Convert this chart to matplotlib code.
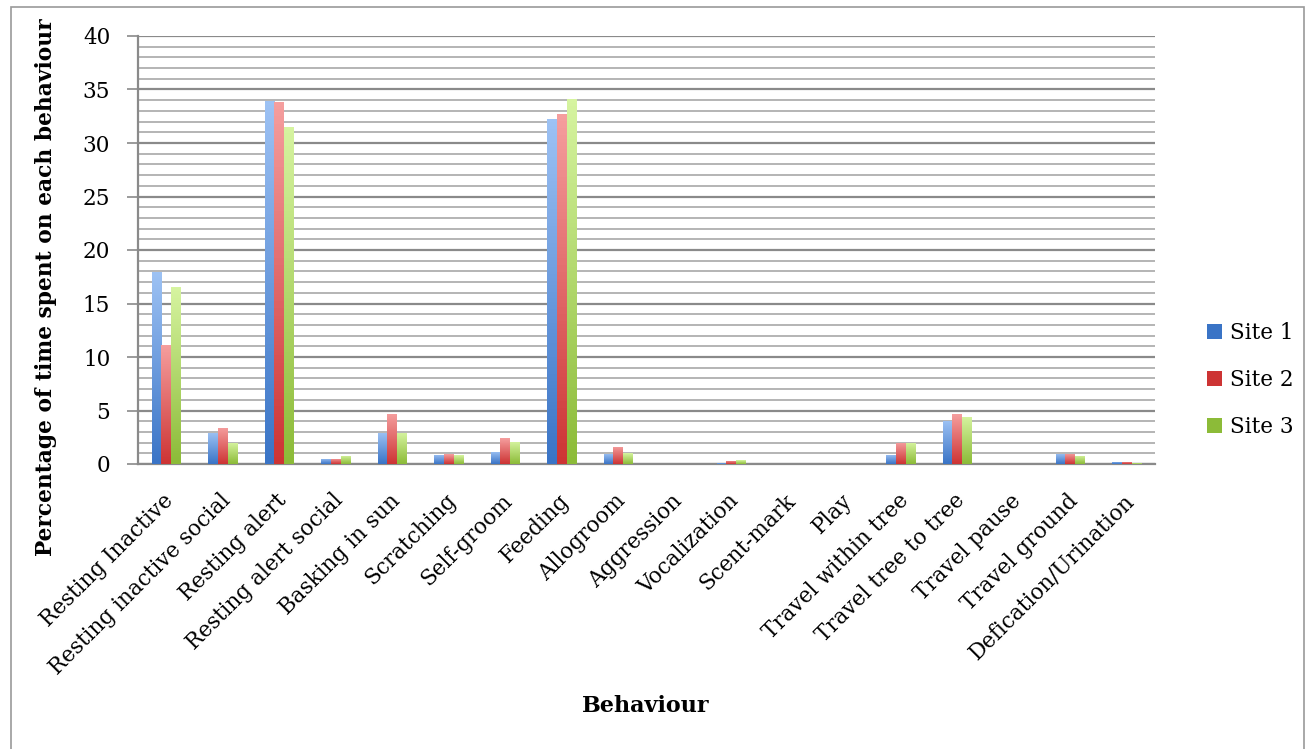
import matplotlib.pyplot as plt
import numpy as np
from matplotlib.colors import LinearSegmentedColormap
from matplotlib.patches import Rectangle, Patch

behaviours = ['Resting Inactive', 'Resting inactive social', 'Resting alert',
              'Resting alert social', 'Basking in sun', 'Scratching', 'Self-groom',
              'Feeding', 'Allogroom', 'Aggression', 'Vocalization', 'Scent-mark',
              'Play', 'Travel within tree', 'Travel tree to tree', 'Travel pause',
              'Travel ground', 'Defication/Urination']

site1 = [17.9, 2.9, 33.9, 0.5, 2.9, 0.85, 1.15, 32.2, 0.95, 0.0, 0.05, 0.0,
         0.0, 0.85, 4.05, 0.0, 0.95, 0.2]
site2 = [11.1, 3.4, 33.8, 0.5, 4.7, 0.9, 2.4, 32.7, 1.6, 0.03, 0.3, 0.0,
         0.0, 2.0, 4.65, 0.0, 0.95, 0.2]
site3 = [16.5, 2.0, 31.5, 0.75, 2.9, 0.8, 2.1, 34.1, 1.0, 0.0, 0.35, 0.0,
         0.0, 2.0, 4.4, 0.0, 0.75, 0.05]

series = ['Site 1', 'Site 2', 'Site 3']
# (top colour, bottom colour) for the gradient fill
grads = [('#9dc2f4', '#3a74c6'), ('#f59e9e', '#cd3434'), ('#d6f4a0', '#8cbb38')]

plt.rcParams['font.family'] = ['DejaVu Serif']
fs = 15.5

fig = plt.figure(figsize=(13.06, 7.49), dpi=100)
ax = fig.add_axes([138 / 1306, 1 - 464 / 749, (1155 - 138) / 1306, (464 - 36) / 749])

x = np.arange(len(behaviours))
w = 0.17
for i, (vals, (top, bot)) in enumerate(zip([site1, site2, site3], grads)):
    cmap = LinearSegmentedColormap.from_list('g%d' % i, [bot, top])
    bars = ax.bar(x + (i - 1) * w, vals, w, color=top, linewidth=0, zorder=3)
    for b in bars:
        h = b.get_height()
        if h <= 0:
            continue
        bx = b.get_x()
        im = ax.imshow(np.linspace(0, 1, 100).reshape(-1, 1), cmap=cmap, origin='lower',
                       extent=[bx, bx + w, 0, h], aspect='auto', zorder=3.5)
        im.set_clip_path(b)

ax.set_xlim(-0.5, len(behaviours) - 0.5)
ax.set_ylim(0, 40)
ax.set_yticks(np.arange(0, 41, 5))
ax.set_yticks(np.arange(0, 41, 1), minor=True)
ax.grid(axis='y', which='major', color='#8a8a8a', linewidth=1.6, zorder=1)
ax.grid(axis='y', which='minor', color='#b4b4b4', linewidth=1.4, zorder=1)
ax.tick_params(axis='y', which='major', length=8, width=1.2, color='#8a8a8a',
               labelsize=fs, pad=12)
ax.tick_params(axis='y', which='minor', length=0)

ax.set_xticks(x)
ax.set_xticklabels([])
ax.tick_params(axis='x', length=0)
for xi, lab in zip(x, behaviours):
    ax.annotate(lab, (xi, 0), xytext=(3, -24), textcoords='offset points',
                rotation=45, ha='right', va='center', rotation_mode='anchor',
                fontsize=fs, xycoords='data')

for s in ['top', 'right']:
    ax.spines[s].set_visible(False)
for s in ['left', 'bottom']:
    ax.spines[s].set_color('#8a8a8a')
    ax.spines[s].set_linewidth(1.6)

ax.set_ylabel('Percentage of time spent on each behaviour', fontsize=15.7,
              fontweight='bold')
ax.yaxis.set_label_coords(-0.0797, 0.412)
fig.text(646 / 1306, 1 - 706 / 749, 'Behaviour', fontsize=16, fontweight='bold',
         ha='center', va='center')

handles = [Patch(facecolor=c[1], edgecolor='none') for c in grads]
fig.legend(handles, series, loc='center left', bbox_to_anchor=(1188 / 1306, 1 - 380 / 749),
           frameon=False, fontsize=fs, handlelength=0.7, handleheight=0.7,
           handletextpad=0.35, labelspacing=1.18)

fig.patches.append(Rectangle((11 / 1306, -0.01), 1293 / 1306, 1 - 7 / 749 + 0.01,
                             transform=fig.transFigure, fill=False,
                             edgecolor='#999999', linewidth=1.2))

fig.savefig('out.png', dpi=100)
